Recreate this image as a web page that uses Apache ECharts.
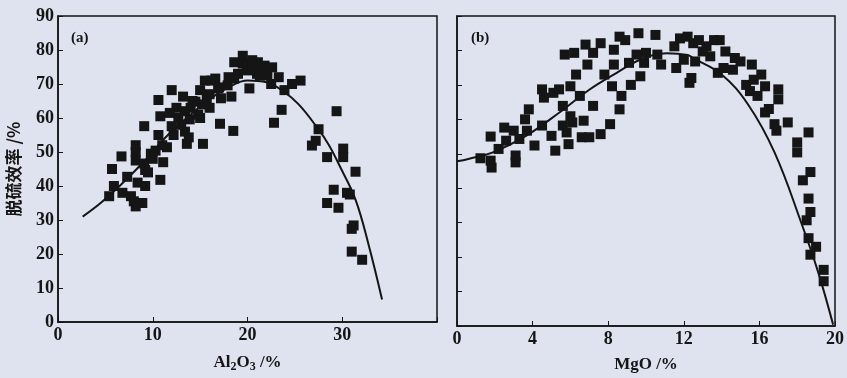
<!DOCTYPE html>
<html>
<head>
<meta charset="utf-8">
<script src="https://cdn.jsdelivr.net/npm/echarts@6/dist/echarts.min.js"></script>
<style>
  html, body { margin: 0; padding: 0; background: #dfe3ef; }
  #chart { width: 847px; height: 378px; }
</style>
</head>
<body>
<div id="chart"></div>
<script>
// panel (a): Al2O3 vs desulfurization efficiency
const aX = [5.4, 5.7, 5.9, 6.7, 6.8, 7.3, 7.7, 8.0, 8.2, 8.2, 8.2, 8.2, 8.4, 8.9, 9.1, 9.1, 9.2, 9.2, 9.8, 10.3,
  10.6, 10.6, 10.8, 10.8, 11.1, 11.5, 11.8, 12.0, 12.0, 12.7, 13.2, 13.4, 13.4, 13.6, 13.8, 13.9, 14.5, 14.8, 15.0, 15.3,
  15.5, 15.7, 16.0, 16.2, 16.6, 16.9, 17.1, 17.2, 17.9, 18.3, 18.5, 18.6, 18.6, 19.5, 19.9, 20.2, 20.6, 21.1, 21.3, 21.8,
  22.1, 22.5, 22.6, 22.8, 23.3, 23.6, 23.9, 24.7, 25.6, 27.5, 26.8, 27.2, 28.4, 28.4, 29.1, 29.4, 29.6, 30.1, 30.1, 30.5,
  30.8, 31.0, 31.2, 31.0, 31.4, 32.1,
  13.0, 14.0, 15.0, 16.0, 17.0, 18.0, 19.0, 20.0, 21.0, 22.0, 19.5, 20.5, 21.5, 12.5, 14.2, 15.2, 10.0, 11.0, 9.5, 12.2];
const aY = [37, 45, 40, 48.7, 38, 42.7, 37, 35.5, 34, 52, 50, 47.5, 41, 35, 57.6, 46.6, 40, 44.7, 49.5, 50.4,
  65.3, 55, 41.8, 60.5, 47, 51.4, 61.5, 68.2, 57.6, 60, 66.3, 62, 56, 52.4, 54.3, 59.6, 64.8, 61, 68.2, 52.4,
  71, 65.8, 63, 71, 71.6, 68.7, 58.3, 65.8, 69.6, 66.3, 56.2, 76.4, 71.6, 78.3, 75.9, 68.7, 75.4, 76.4, 72.5, 75.4,
  72.5, 70, 74.9, 58.6, 72, 62.4, 68.2, 70, 71, 56.7, 51.9, 53.3, 48.5, 35, 38.9, 62, 33.6, 51, 48.5, 38,
  37.5, 27.4, 28.4, 20.7, 44.2, 18.3,
  58, 63, 60, 67, 69, 72, 73, 74, 73, 73, 76, 77, 74, 63, 65, 64, 48, 52, 44, 55];
const aFitX = [2.6, 4.5, 6.5, 9.0, 11.6, 14.0, 16.0, 18.0, 20.0, 22.0, 23.7, 25.4, 27.4, 28.6, 29.8, 31.4, 32.8, 34.2];
const aFitY = [31, 35, 40, 47, 55, 61, 65.5, 69, 71, 70.5, 68, 64, 57, 52, 45.5, 36, 22.5, 6.6];

// panel (b): MgO vs desulfurization efficiency
const bX = [1.24, 1.78, 1.83, 1.78, 2.2, 2.5, 2.6, 3.0, 3.1, 3.1, 3.3, 3.6, 3.7, 3.8, 4.1, 4.5, 4.5, 4.6, 5.0, 5.1,
  5.2, 5.4, 5.6, 5.6, 5.7, 5.8, 5.9, 6.0, 6.0, 6.1, 6.2, 6.3, 6.5, 6.6, 6.7, 6.8, 6.9, 7.0, 7.2, 7.2,
  7.6, 7.6, 7.8, 8.1, 8.2, 8.3, 8.3, 8.6, 8.6, 8.7, 8.9, 9.1, 9.2, 9.5, 9.6, 9.7, 9.9, 10.0, 10.5, 10.6,
  10.8, 11.5, 11.6, 11.8, 12.0, 12.2, 12.3, 12.4, 12.5, 12.6, 12.8, 13.0, 13.2, 13.4, 13.6, 13.8, 13.9, 14.1, 14.2, 14.6,
  14.7, 15.0, 15.3, 15.5, 15.6, 15.7, 15.9, 16.1, 16.3, 16.3, 16.5, 16.8, 16.9, 17.0, 17.0, 17.5, 18.0, 18.0, 18.6, 18.3,
  18.7, 18.6, 18.7, 18.5, 18.6, 18.7, 19.0, 19.4, 19.4];
const bY = [48.7, 48, 46, 55, 51.4, 57.6, 53.8, 56.7, 47.5, 49.5, 54.3, 60, 56.7, 62.9, 52.4, 68.7, 58.2, 66.3, 55.2, 67.7,
  50.9, 68.7, 63.9, 58.2, 78.8, 56.2, 52.8, 60.9, 69.6, 59.1, 79.3, 73, 66.8, 54.8, 59.6, 81.7, 75.9, 54.8, 63.9, 79.3,
  82.1, 55.7, 73, 58.6, 69.6, 80.2, 75.9, 62.9, 84, 66.8, 83, 76.4, 70, 78.8, 85, 72.5, 76.4, 79.3, 84.5, 78.8,
  75.9, 81.2, 74.9, 83.5, 77.3, 84, 70.6, 72, 82.1, 76.8, 83, 79.7, 81.2, 78.3, 83, 73.5, 83, 74.9, 79.7, 74.4,
  77.8, 76.8, 70, 68.2, 75.9, 71.5, 66.8, 73, 62, 69.6, 63, 58.6, 56.7, 68.7, 65.8, 59.1, 53.3, 50.4, 56.2, 42.3,
  44.7, 37, 33.1, 30.7, 25.5, 20.7, 23, 16.3, 13];
const bFitX = [0, 0.6, 1.9, 3.65, 5.4, 7.0, 8.45, 9.7, 11.1, 12.2, 12.5, 14.0, 15.4, 16.8, 18.2, 19.1, 19.9];
const bFitY = [47.8, 48.5, 50.4, 55.2, 61.9, 68.6, 73.5, 77.3, 79.2, 78.7, 77.8, 73, 64.3, 50.4, 30.2, 15.8, 0.4];

const yTicks = [0, 10, 20, 30, 40, 50, 60, 70, 80, 90];

function zip(xs, ys) {
  return xs.map((x, i) => [x, ys[i]]);
}

const serif = "Liberation Serif";
const ink = "#151515";

const tickLabel = { color: ink, fontFamily: serif, fontSize: 18, fontWeight: "bold", margin: 4 };

const subRich = {
  n: { fontFamily: serif, fontSize: 17, fontWeight: "bold", color: ink },
  s: { fontFamily: serif, fontSize: 12, fontWeight: "bold", color: ink, padding: [9, 0, 0, 0] },
};

const chart = echarts.init(document.getElementById("chart"));
chart.setOption({
  backgroundColor: "#dfe3ef",
  animation: false,
  title: [
    { text: "(a)", left: 66, top: 26, textStyle: { fontFamily: serif, fontSize: 15, fontWeight: "bold", color: ink } },
    { text: "(b)", left: 466, top: 26, textStyle: { fontFamily: serif, fontSize: 15, fontWeight: "bold", color: ink } },
  ],
  grid: [
    { left: 58, top: 16, width: 379, height: 312, show: true, borderColor: ink, borderWidth: 1.5, backgroundColor: "transparent" },
    { left: 457, top: 16, width: 379, height: 312, show: true, borderColor: ink, borderWidth: 1.5, backgroundColor: "transparent" },
  ],
  xAxis: [
    {
      gridIndex: 0, type: "value", min: 0, max: 40, interval: 10,
      axisLine: { lineStyle: { color: ink, width: 1.5 } },
      axisTick: { inside: true, length: 5, lineStyle: { color: ink } },
      axisLabel: Object.assign({}, tickLabel, {
        formatter: (v) => (v === 40 ? "" : String(v)),
      }),
      splitLine: { show: false },
      name: "{n|Al}{s|2}{n|O}{s|3}{n| /%}",
      nameLocation: "middle", nameGap: 30,
      nameTextStyle: { rich: subRich },
    },
    {
      gridIndex: 1, type: "value", min: 0, max: 20, interval: 4,
      axisLine: { lineStyle: { color: ink, width: 1.5 } },
      axisTick: { inside: true, length: 5, lineStyle: { color: ink } },
      axisLabel: Object.assign({}, tickLabel),
      splitLine: { show: false },
      name: "MgO /%",
      nameLocation: "middle", nameGap: 30,
      nameTextStyle: { fontFamily: serif, fontSize: 17, fontWeight: "bold", color: ink },
    },
  ],
  yAxis: [
    {
      gridIndex: 0, type: "value", min: 0, max: 90, interval: 10,
      axisLine: { lineStyle: { color: ink, width: 1.5 } },
      axisTick: { inside: true, length: 5, lineStyle: { color: ink } },
      axisLabel: tickLabel,
      splitLine: { show: false },
      name: "脱硫效率 /%",
      nameLocation: "middle", nameGap: 36,
      nameTextStyle: { fontFamily: "Noto Sans CJK SC", fontSize: 17, fontWeight: "bold", color: ink },
    },
    {
      gridIndex: 1, type: "value", min: 0, max: 90, interval: 10,
      axisLine: { lineStyle: { color: ink, width: 1.5 } },
      axisTick: { inside: true, length: 5, lineStyle: { color: ink } },
      axisLabel: { show: false },
      splitLine: { show: false },
    },
  ],
  series: [
    {
      type: "scatter", xAxisIndex: 0, yAxisIndex: 0,
      data: zip(aX, aY), symbol: "rect", symbolSize: 10,
      itemStyle: { color: ink, opacity: 1 },
    },
    {
      type: "line", xAxisIndex: 0, yAxisIndex: 0,
      data: zip(aFitX, aFitY), smooth: 0.4, showSymbol: false,
      lineStyle: { color: ink, width: 2 },
    },
    {
      type: "scatter", xAxisIndex: 1, yAxisIndex: 1,
      data: zip(bX, bY), symbol: "rect", symbolSize: 10,
      itemStyle: { color: ink, opacity: 1 },
    },
    {
      type: "line", xAxisIndex: 1, yAxisIndex: 1,
      data: zip(bFitX, bFitY), smooth: 0.4, showSymbol: false,
      lineStyle: { color: ink, width: 2 },
    },
  ],
});
</script>
</body>
</html>
